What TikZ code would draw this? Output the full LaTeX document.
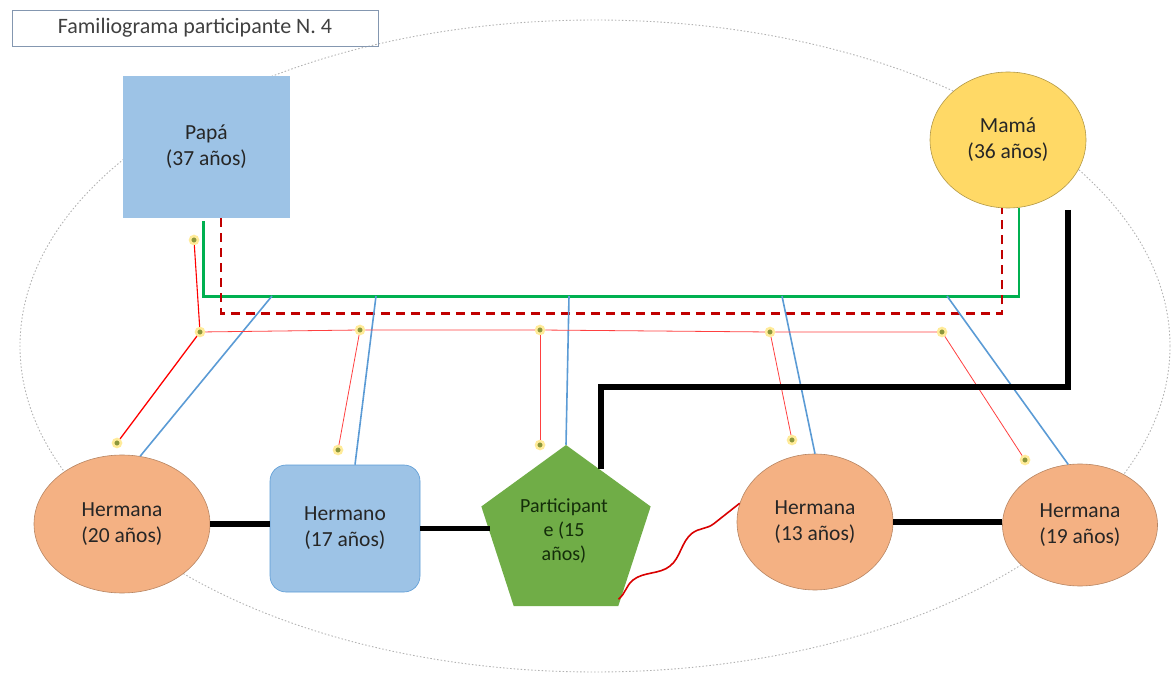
\documentclass[tikz,border=0pt]{standalone}
\usepackage{fontspec}
\setmainfont{Carlito}
\usetikzlibrary{shapes.geometric,decorations.pathmorphing}
\definecolor{papablue}{HTML}{9DC3E6}
\definecolor{mamayellow}{HTML}{FFD966}
\definecolor{sisorange}{HTML}{F4B183}
\definecolor{partgreen}{HTML}{70AD47}
\definecolor{lineblue}{HTML}{5B9BD5}
\definecolor{linegreen}{HTML}{00B050}
\definecolor{darkred}{HTML}{C00000}
\definecolor{txt}{HTML}{262626}
\definecolor{mkfill}{HTML}{8C963C}
\definecolor{mkhalo}{HTML}{FFEB99}
\begin{document}
\begin{tikzpicture}[x=1pt,y=-1pt,
  lbl/.style={font=\fontsize{21.5}{26}\selectfont, text=txt, align=center, inner sep=0pt},
  sis/.style={lbl, ellipse, fill=sisorange, draw=sisorange!75!black, line width=0.6pt},
  dotmk/.style={circle, inner sep=0pt, minimum size=8pt, fill=mkfill, draw=mkhalo, line width=2.5pt},
  bondline/.style={linegreen, line width=2.5pt},
  conflict/.style={darkred, line width=2.5pt, dash pattern=on 9pt off 6pt},
  childline/.style={lineblue, line width=1.6pt},
  thinred/.style={red!75, line width=0.8pt},
  strong/.style={black, line width=5.5pt}
]
\useasboundingbox (0,0) rectangle (1171,676);

% family ellipse
\draw[gray!60, line width=0.9pt, dash pattern=on 1.5pt off 2pt] (595,346) ellipse [x radius=575pt, y radius=326pt];

% title
\node[draw={rgb,255:red,132;green,151;blue,176}, line width=0.7pt, minimum width=366pt, minimum height=36pt,
      font=\fontsize{22}{26}\selectfont, text={rgb,255:red,64;green,64;blue,64}] (title) at (195,28) {Familiograma participante N. 4};

% parents
\node[lbl, fill=papablue, minimum width=167pt, minimum height=142pt] (papa) at (206.5,147) {Papá\\(37 años)};
\node[lbl, ellipse, fill=mamayellow, draw=mamayellow!70!black, line width=0.6pt, minimum width=156pt, minimum height=136pt] (mama) at (1008,140) {Mamá\\(36 años)};

% children
\node[sis, minimum width=176pt, minimum height=138pt] (h20) at (122,524) {Hermana\\(20 años)};
\node[lbl, rounded corners=16pt, fill=papablue, draw=lineblue, line width=0.6pt, minimum width=150pt, minimum height=127pt] (hermano) at (345,528.5) {Hermano\\(17 años)};
\node[regular polygon, regular polygon sides=5, fill=partgreen, inner sep=0pt, minimum size=178pt] (part) at (566,534) {};
\node[lbl, font=\fontsize{20}{24}\selectfont, text={rgb,255:red,20;green,45;blue,10}] (partlbl) at (564,531) {Participant\\e (15\\años)};
\node[sis, minimum width=156pt, minimum height=136pt] (h13) at (815,522) {Hermana\\(13 años)};
\node[sis, minimum width=155pt, minimum height=122pt] (h19) at (1080,525) {Hermana\\(19 años)};

% parental bonds
\draw[bondline] ([xshift=-3pt,yshift=-3pt]papa.south) |- ([xshift=11pt,yshift=-88pt]mama.south) -- ([xshift=11pt]mama.south);
\draw[conflict] ([xshift=14.5pt]papa.south) |- ([xshift=-6pt,yshift=-105pt]mama.south) -- ([xshift=-6pt]mama.south);

% child lines from the union line
\coordinate (g1) at (272,296);
\coordinate (g2) at (376,296);
\coordinate (g3) at (569,296);
\coordinate (g4) at (782,296);
\coordinate (g5) at (947,296);
\draw[childline] (g1) -- (h20.75);
\draw[childline] (g2) -- ([xshift=10pt]hermano.north);
\draw[childline] (g3) -- (part.corner 1);
\draw[childline] (g4) -- (h13.north);
\draw[childline] (g5) -- (h19.101);

% markers and thin red links
\node[dotmk] (m0) at (194,240) {};
\node[dotmk] (m1) at (200,332) {};
\node[dotmk] (m2) at (360,330) {};
\node[dotmk] (m3) at (540,330) {};
\node[dotmk] (m4) at (770,332) {};
\node[dotmk] (m5) at (942,332) {};
\node[dotmk] (c1) at (117,443) {};
\node[dotmk] (c2) at (338,450) {};
\node[dotmk] (c3) at (540,445) {};
\node[dotmk] (c4) at (792,440) {};
\node[dotmk] (c5) at (1025,460) {};
\draw[red, line width=1.1pt] (m0) -- (m1);
\draw[red, line width=1.3pt] (m1) -- (c1);
\draw[thinred] (m1) -- (m2) -- (m3) -- (m4) -- (m5);
\draw[thinred] (m2) -- (c2);
\draw[thinred] (m3) -- (c3);
\draw[thinred] (m4) -- (c4);
\draw[thinred] (m5) -- (c5);

% strong bonds
\coordinate (mb) at (1068,210);
\coordinate (bend) at (1068,387);
\draw[strong] (mb) -- (bend) -| ([xshift=35pt,yshift=-24pt]part.corner 1);
\draw[strong] (h20.east) -- (h20.east -| hermano.west);
\draw[strong] (hermano.east) -- (hermano.east -| part.west);
\draw[strong] (h13.east) -- (h13.east -| h19.west);

% hostile (wavy) relation
\draw[red!85!black, line width=1.6pt, decorate, decoration={snake, amplitude=6pt, segment length=75pt}] ([yshift=7pt]part.corner 4) -- (h13.166);
\end{tikzpicture}
\end{document}
